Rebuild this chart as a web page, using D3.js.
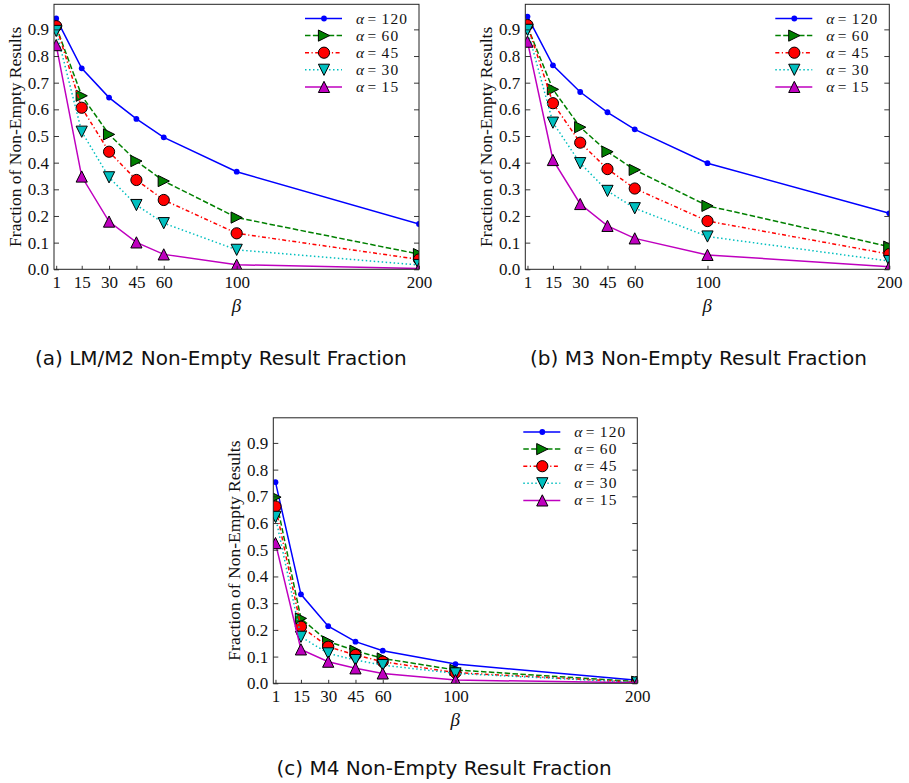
<!DOCTYPE html>
<html>
<head>
<meta charset="utf-8">
<script src="https://cdn.jsdelivr.net/npm/d3@7"></script>
<style>
  body { margin: 0; background: #fff; }
  svg { display: block; }
</style>
</head>
<body>
<svg id="fig" width="909" height="783"></svg>
<script>
/* Datos */
const betas = [1, 15, 30, 45, 60, 100, 200];
const alphas = [120, 60, 45, 30, 15];
const yTicks = [0, 0.1, 0.2, 0.3, 0.4, 0.5, 0.6, 0.7, 0.8, 0.9];
const captions = ["(a) LM/M2 Non-Empty Result Fraction", "(b) M3 Non-Empty Result Fraction", "(c) M4 Non-Empty Result Fraction"];

// una fila por alpha (120, 60, 45, 30, 15), una columna por beta
const lmM2 = [
  [0.941, 0.754, 0.644, 0.564, 0.495, 0.366, 0.170],
  [0.910, 0.651, 0.506, 0.406, 0.331, 0.194, 0.057],
  [0.912, 0.606, 0.441, 0.335, 0.260, 0.135, 0.037],
  [0.894, 0.516, 0.345, 0.241, 0.173, 0.073, 0.016],
  [0.841, 0.348, 0.179, 0.101, 0.056, 0.017, 0.003],
];
const m3 = [
  [0.948, 0.765, 0.665, 0.589, 0.525, 0.398, 0.210],
  [0.910, 0.675, 0.533, 0.441, 0.373, 0.238, 0.085],
  [0.916, 0.623, 0.475, 0.376, 0.303, 0.181, 0.057],
  [0.898, 0.550, 0.398, 0.294, 0.229, 0.123, 0.031],
  [0.854, 0.410, 0.245, 0.163, 0.116, 0.054, 0.010],
];
const m4 = [
  [0.753, 0.333, 0.214, 0.156, 0.122, 0.072, 0.011],
  [0.697, 0.243, 0.156, 0.122, 0.093, 0.050, 0.006],
  [0.662, 0.212, 0.137, 0.106, 0.081, 0.040, 0.004],
  [0.623, 0.174, 0.112, 0.087, 0.068, 0.037, 0.003],
  [0.525, 0.127, 0.081, 0.056, 0.037, 0.012, 0.002],
];

/* Estilos de las series */
const colors = ["#0000ff", "#008000", "#ff0000", "#00bfbf", "#bf00bf"];
const dashes = [null, "5.5,2.4", "4,2.5,1.2,2.5", "1.5,2.5", null];
const markers = ["dot", "right", "circle", "down", "up"];

/* Paneles */
const panels = [
  { data: lmM2, left: 54, top: 4.3, w: 365, h: 265, capX: 35, capY: 357.5 },
  { data: m3, left: 525.3, top: 4.3, w: 364, h: 265, capX: 530, capY: 357.5 },
  { data: m4, left: 273.3, top: 417.8, w: 364, h: 265.5, capX: 276.5, capY: 767.5 },
];

const serif = "'Liberation Serif', 'Times New Roman', serif";
const svg = d3.select("#fig");

function drawMarker(g, type, color, x, y) {
  const s = 5.6;
  if (type === "dot") {
    g.append("circle").attr("cx", x).attr("cy", y).attr("r", 2.9).attr("fill", color);
    return;
  }
  if (type === "circle") {
    g.append("circle").attr("cx", x).attr("cy", y).attr("r", 5.6)
      .attr("fill", color).attr("stroke", "#000").attr("stroke-width", 1);
    return;
  }
  let pts;
  if (type === "up") pts = [[0, -s], [-s, s], [s, s]];
  if (type === "down") pts = [[0, s], [-s, -s], [s, -s]];
  if (type === "right") pts = [[s, 0], [-s, -s], [-s, s]];
  g.append("path")
    .attr("d", "M" + pts.map((p) => `${x + p[0]},${y + p[1]}`).join("L") + "Z")
    .attr("fill", color).attr("stroke", "#000").attr("stroke-width", 1)
    .attr("stroke-linejoin", "miter");
}

panels.forEach((p, pi) => {
  const x = d3.scaleLinear().domain([-0.2, 200]).range([p.left, p.left + p.w]);
  const y = d3.scaleLinear().domain([0, 0.994]).range([p.top + p.h, p.top]);
  const bottom = p.top + p.h;

  const clipId = "clip" + pi;
  svg.append("clipPath").attr("id", clipId)
    .append("rect").attr("x", p.left).attr("y", p.top).attr("width", p.w).attr("height", p.h);

  const plot = svg.append("g").attr("clip-path", `url(#${clipId})`);

  const line = d3.line().x((d, i) => x(betas[i])).y((d) => y(d));

  p.data.forEach((serie, si) => {
    plot.append("path")
      .attr("d", line(serie))
      .attr("fill", "none")
      .attr("stroke", colors[si])
      .attr("stroke-width", 1.5)
      .attr("stroke-dasharray", dashes[si]);
    const mg = plot.append("g");
    serie.forEach((v, i) => drawMarker(mg, markers[si], colors[si], x(betas[i]), y(v)));
  });

  // Ejes
  const yAxis = svg.append("g").attr("transform", `translate(${p.left},0)`)
    .call(d3.axisLeft(y).tickValues(yTicks).tickSize(-5).tickPadding(5).tickFormat(d3.format(".1f")));
  const yAxisR = svg.append("g").attr("transform", `translate(${p.left + p.w},0)`)
    .call(d3.axisRight(y).tickValues(yTicks).tickSize(-5).tickFormat(""));
  const xAxis = svg.append("g").attr("transform", `translate(0,${bottom})`)
    .call(d3.axisBottom(x).tickValues(betas).tickSize(-3.5).tickPadding(7).tickFormat(d3.format("d")));

  [yAxis, yAxisR, xAxis].forEach((a) => {
    a.attr("font-family", serif).attr("font-size", 17);
    a.select(".domain").remove();
    a.selectAll(".tick line").attr("stroke", "#222").attr("stroke-width", 0.9);
    a.selectAll("text").attr("font-family", serif).attr("font-size", 17).attr("fill", "#111");
  });

  // Marco
  svg.append("rect")
    .attr("x", p.left).attr("y", p.top).attr("width", p.w).attr("height", p.h)
    .attr("fill", "none").attr("stroke", "#222").attr("stroke-width", 1);

  // Etiquetas de ejes
  svg.append("text")
    .attr("transform", `translate(${p.left - 39},${p.top + p.h / 2}) rotate(-90)`)
    .attr("text-anchor", "middle").attr("dy", "0.35em")
    .attr("font-family", serif).attr("font-size", 17.5).attr("fill", "#111")
    .text("Fraction of Non-Empty Results");

  svg.append("text")
    .attr("x", p.left + p.w / 2).attr("y", bottom + 36).attr("dy", "0.35em")
    .attr("text-anchor", "middle").attr("font-family", serif).attr("font-style", "italic")
    .attr("font-size", 19).attr("fill", "#111")
    .text("β");

  // Leyenda
  const lg = svg.append("g").attr("font-family", serif).attr("font-size", 15.4).attr("fill", "#111");
  alphas.forEach((a, si) => {
    const ly = p.top + 14.2 + si * 17.1;
    const x0 = p.left + p.w - 114;
    const tx = p.left + p.w - 63;
    lg.append("line")
      .attr("x1", x0).attr("x2", x0 + 37).attr("y1", ly).attr("y2", ly)
      .attr("stroke", colors[si]).attr("stroke-width", 1.5)
      .attr("stroke-dasharray", dashes[si]);
    drawMarker(lg, markers[si], colors[si], x0 + 19, ly);
    lg.append("text").attr("x", tx).attr("y", ly).attr("dy", "0.33em")
      .attr("font-style", "italic").attr("letter-spacing", 1).text("α");
    lg.append("text").attr("x", tx + 11.5).attr("y", ly).attr("dy", "0.33em").text("=");
    lg.append("text").attr("x", tx + 25.5).attr("y", ly).attr("dy", "0.33em")
      .attr("letter-spacing", 1.2).text(a);
  });

  // Pie de figura
  svg.append("text")
    .attr("x", p.capX).attr("y", p.capY).attr("dy", "0.35em")
    .attr("font-family", "'DejaVu Sans', sans-serif").attr("font-size", 20).attr("fill", "#111")
    .text(captions[pi]);
});
</script>
</body>
</html>
